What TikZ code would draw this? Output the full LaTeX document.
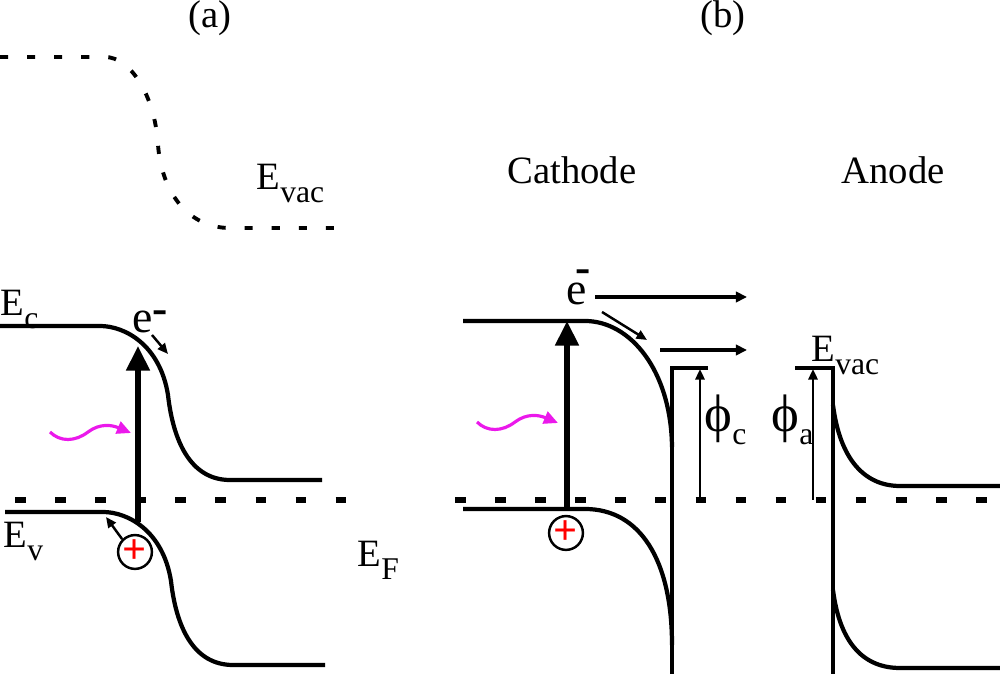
\documentclass[tikz,border=0pt]{standalone}
\usepackage{fontspec}
\setmainfont{Liberation Serif}
\usetikzlibrary{arrows.meta}
\definecolor{photonpink}{RGB}{235,25,235}
\newcommand{\lowsub}[1]{\raisebox{-3.5pt}{\fontsize{9}{9}\selectfont #1}}

\begin{document}
\begin{tikzpicture}[x=0.01cm,y=-0.01cm,
  band/.style={line width=1.2pt},
  fermi/.style={line width=1.6pt,dash pattern=on 3pt off 8.4pt},
  vac/.style={line width=1.1pt,dash pattern=on 2.3pt off 5.4pt},
  excite/.style={line width=1.5pt,-{Triangle[length=7pt,width=6.5pt]}},
  fly/.style={line width=1pt,-{Triangle[length=3.2pt,width=3pt]}},
  tiny/.style={line width=0.7pt,-{Triangle[length=3pt,width=2.6pt]}},
  wave/.style={photonpink,line width=0.9pt,-{Triangle[length=4pt,width=3.6pt]}},
  hole/.style={circle,draw,line width=0.7pt,minimum size=8.5pt,inner sep=0pt,
    font=\fontsize{12}{12}\selectfont\bfseries,text=red},
  txt/.style={font=\fontsize{11}{13}\selectfont,inner sep=0pt},
  efont/.style={font=\fontsize{13}{15}\selectfont,inner sep=0pt},
  phifont/.style={font=\fontsize{15}{17}\selectfont,inner sep=0pt}]
\useasboundingbox (0,0) rectangle (1000,674);

% titles and labels
\node[txt] (tagA) at (210,18) {(a)};
\node[txt] (tagB) at (723,18) {(b)};
\node[txt] (cath) at (572,170) {Cathode};
\node[txt] (anod) at (893,170) {Anode};
\node[txt,anchor=base west] (EvacA) at (256,190) {E\lowsub{vac}};
\node[txt,anchor=base west] (Ec) at (0,316) {E\lowsub{c}};
\node[txt,anchor=base west] (Ev) at (3,548) {E\lowsub{v}};
\node[txt,anchor=base west] (EF) at (357,567) {E\lowsub{F}};
\node[txt,anchor=base west] (EvacB) at (811,362) {E\lowsub{vac}};

% (a) bent bands
\draw[vac] (0,57) -- (105,57) .. controls (130,57) and (155,95) .. (158,145)
  .. controls (162,195) and (190,228) .. (230,228) -- (345,228);
\draw[band] (0,326) -- (100,326) .. controls (125,326) and (160,345) .. (168,395)
  .. controls (173,440) and (190,480) .. (230,480) -- (322,480);
\draw[band] (5,512) -- (103,512) .. controls (128,512) and (163,531) .. (171,581)
  .. controls (176,626) and (193,665) .. (233,665) -- (325,665);
\draw[fermi] (15,500) -- (350,500);

% (a) carriers
\node[efont,anchor=base west] (eA) at (132,333) {e\raisebox{2.8pt}{\textbf{-}}};
\node[hole] (hA) at (135,552) {+};
\coordinate (exA0) at (138,522);
\coordinate (exA1) at (138,346);
\coordinate (eA0) at (152,335);
\coordinate (eA1) at (168,354);
\coordinate (hA1) at (106,517);
\draw[excite] (exA0) -- (exA1);
\draw[tiny] (eA0) -- (eA1);
\draw[tiny] (hA.north west) -- (hA1);
\draw[wave] (50,432) .. controls (60,442) and (75,442) .. (88,432)
  .. controls (100,423) and (112,425) .. (131,433);

% (b) cathode
\draw[band] (463,321) -- (585,321) .. controls (630,321) and (671,370) .. (672,447);
\draw[band] (463,509) -- (585,509) .. controls (640,509) and (672,560) .. (672,645);
\draw[band] (708,368) -- (672,368) -- (672,674);
% (b) anode
\draw[band] (795,368) -- (833,368) -- (833,674);
\draw[band] (833,405) .. controls (840,460) and (865,486) .. (900,486) -- (1000,486);
\draw[band] (833,590) .. controls (840,645) and (865,668) .. (900,668) -- (1000,668);
\draw[fermi] (455,500) -- (1000,500);

% (b) carriers
\node[efont,anchor=base west] (eB) at (566,305) {e\kern-3.3pt\raisebox{6.5pt}{\textbf{-}}};
\node[hole] (hB) at (566,533) {+};
\coordinate (exB0) at (567,509);
\coordinate (exB1) at (567,321);
\coordinate (eB0) at (595,297);
\coordinate (eB1) at (747,297);
\coordinate (eB2) at (660,350);
\coordinate (eB3) at (747,350);
\coordinate (eB4) at (602,312);
\coordinate (eB5) at (647,340);
\draw[excite] (exB0) -- (exB1);
\draw[fly] (eB0) -- (eB1);
\draw[fly] (eB2) -- (eB3);
\draw[tiny] (eB4) -- (eB5);
\draw[wave] (477,422) .. controls (487,432) and (502,432) .. (515,422)
  .. controls (527,413) and (539,415) .. (558,423);

% work functions
\coordinate (phiC0) at (700,500);
\coordinate (phiC1) at (700,369);
\coordinate (phiA0) at (813,500);
\coordinate (phiA1) at (813,369);
\draw[tiny] (phiC0) -- (phiC1);
\draw[tiny] (phiA0) -- (phiA1);
\node[phifont,anchor=base west] (phiC) at (704,432) {ϕ\lowsub{c}};
\node[phifont,anchor=base west] (phiA) at (771,432) {ϕ\lowsub{a}};
\end{tikzpicture}
\end{document}
